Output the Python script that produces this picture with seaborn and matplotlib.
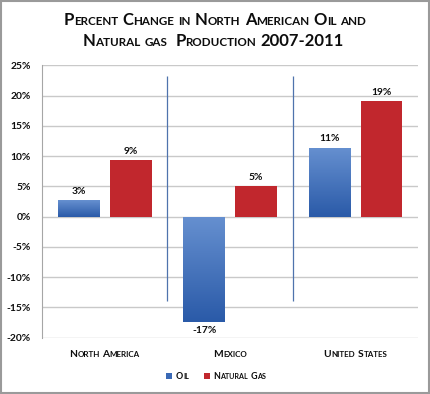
import numpy as np
import pandas as pd
import seaborn as sns
import matplotlib
matplotlib.use("Agg")
import matplotlib.pyplot as plt
from matplotlib.patches import Rectangle
from matplotlib.colors import LinearSegmentedColormap
from matplotlib.font_manager import findfont, FontProperties
from matplotlib.ft2font import FT2Font

# data (percent change 2007-2011)
regions = ["North America", "Mexico", "United States"]
series = ["Oil", "Natural Gas"]
oil_change = [2.8, -17.4, 11.4]
gas_change = [9.3, 5.0, 19.1]
y_ticks = [-20, -15, -10, -5, 0, 5, 10, 15, 20, 25]

W, H = 430, 394
BLUE = "#3a69b5"
RED = "#c1272d"
TXT = "#0d0d0d"

sns.set_style("white")
plt.rcParams['font.family'] = ['Lato', 'DejaVu Sans']

fig = plt.figure(figsize=(W / 100, H / 100), dpi=100)

bold_font = FT2Font(findfont(FontProperties(family='Lato', weight='bold')))


def advance(s, size):
    # pen advance of a string in pixels at 100 dpi
    bold_font.set_size(size, 100)
    return sum(bold_font.load_char(ord(c)).linearHoriAdvance / 65536 for c in s)


def px(x, y):
    # pixel position measured from the top left -> figure fraction
    return x / W, 1 - y / H


def make_caps(s, big, small):
    # fake small caps: lower case letters drawn as smaller capitals
    pieces = []
    cursor = 0
    for i, word in enumerate(s.split(' ')):
        if i > 0:
            cursor += advance(' ', big)
        runs = []
        for ch in word:
            size = small if ch.islower() else big
            if runs and runs[-1][1] == size:
                runs[-1][0] += ch.upper()
            else:
                runs.append([ch.upper(), size])
        for txt, size in runs:
            t = fig.text(0, 0, txt, fontsize=size, fontweight='bold',
                         va='baseline', ha='left', color=TXT)
            pieces.append((t, cursor))
            cursor += advance(txt, size)
    return pieces, cursor


def place_caps(pieces, x, y):
    for t, off in pieces:
        t.set_position(px(x + off, y))


def caps_centered(x, y, s, big, small):
    pieces, width = make_caps(s, big, small)
    place_caps(pieces, x - width / 2, y)


ax = fig.add_axes([42 / W, 1 - 337.7 / H, 376.3 / W, (337.7 - 65.3) / H])

df = pd.DataFrame({
    "Region": regions * 2,
    "Series": [series[0]] * len(regions) + [series[1]] * len(regions),
    "Change": oil_change + gas_change,
})

sns.barplot(data=df, x="Region", y="Change", hue="Series",
            palette={series[0]: BLUE, series[1]: RED},
            width=0.83, gap=0.2, saturation=1, errorbar=None,
            legend=False, linewidth=0, ax=ax)

# gradient fill on the oil bars
grad = np.linspace(0, 1, 256).reshape(-1, 1)
oil_cmap = LinearSegmentedColormap.from_list("oil", ["#2a5aa8", "#6690d0"])
for bar in ax.containers[0]:
    x0, w = bar.get_x(), bar.get_width()
    y0, h = bar.get_y(), bar.get_height()
    im = ax.imshow(grad, cmap=oil_cmap, origin='lower', aspect='auto',
                   extent=[x0, x0 + w, min(y0, y0 + h), max(y0, y0 + h)],
                   zorder=bar.get_zorder() + 0.1)
    im.set_clip_path(bar)

for cont, vals in zip(ax.containers, [oil_change, gas_change]):
    ax.bar_label(cont, labels=[f"{v:.0f}%" for v in vals], padding=3,
                 fontsize=7.4, fontweight='bold', color=TXT)

# separators between the groups
ax.vlines([i + 0.5 for i in range(len(regions) - 1)], -13.9, 23.3,
          color='#4f73ad', lw=0.9, zorder=3)

ax.set_xlim(-0.5, len(regions) - 0.5)
ax.set_ylim(y_ticks[0], y_ticks[-1])
ax.set_yticks(y_ticks)
ax.set_yticklabels([f"{t}%" for t in y_ticks], fontsize=7.4,
                   fontweight='bold', color=TXT)
ax.set_xticklabels([])
ax.set_xlabel("")
ax.set_ylabel("")
ax.tick_params(axis='both', length=0)
ax.tick_params(axis='y', pad=8)
ax.yaxis.grid(True, color='#c9c9c9', lw=1)
ax.set_axisbelow(True)
for side in ["top", "right", "bottom"]:
    ax.spines[side].set_visible(False)
ax.spines["left"].set_color('#a6a6a6')

# category labels
for i, region in enumerate(regions):
    xpix = ax.transData.transform((i, 0))[0]
    caps_centered(xpix, 357.3, region, 7.4, 5.8)

# title
caps_centered(215, 25, "Percent Change in North American Oil and", 12, 8.4)
caps_centered(213, 46, "Natural gas  Production 2007-2011", 12, 8.4)

# legend
items = [(BLUE, make_caps("Oil", 6.4, 5.1)), (RED, make_caps("Natural Gas", 6.4, 5.1))]
sq, sq_gap, item_gap = 6, 3.5, 15
total = sum(sq + sq_gap + w for _, (_, w) in items) + item_gap * (len(items) - 1)
cx = 216 - total / 2
for color, (pieces, w) in items:
    fig.add_artist(Rectangle(px(cx, 379), sq / W, sq / H,
                             transform=fig.transFigure, color=color, lw=0))
    place_caps(pieces, cx + sq + sq_gap, 379)
    cx += sq + sq_gap + w + item_gap

# outer frame
fig.add_artist(Rectangle((0.75 / W, 0.75 / H), 1 - 1.5 / W, 1 - 1.5 / H,
                         transform=fig.transFigure, fill=False,
                         ec='#9a9a9a', lw=1.5))

fig.savefig("out.png", dpi=100)
